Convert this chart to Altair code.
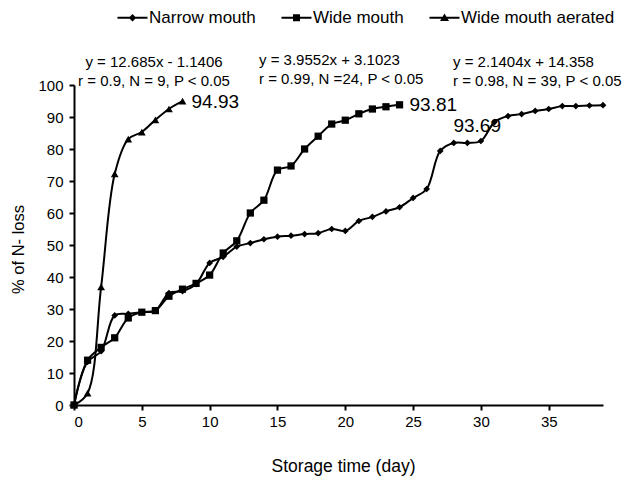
import altair as alt
import pandas as pd

FONT = "Liberation Sans"

series_names = ["Narrow mouth", "Wide mouth", "Wide mouth aerated"]

narrow_days = list(range(0, 40))
narrow_vals = [0, 13.5, 16.8, 28.0, 28.5, 29.0, 29.5, 35.0, 35.6, 37.8,
               44.4, 46.3, 49.5, 50.6, 51.8, 52.6, 52.9, 53.4, 53.7, 55.0,
               54.4, 57.5, 58.8, 60.5, 61.8, 64.7, 67.5, 79.4, 81.9, 81.9,
               82.5, 88.4, 90.3, 90.9, 91.9, 92.5, 93.4, 93.4, 93.6, 93.69]

wide_days = list(range(0, 25))
wide_vals = [0, 14.0, 18.0, 21.0, 27.2, 29.0, 29.5, 34.0, 36.2, 38.0,
             40.6, 47.5, 51.3, 60.0, 64.0, 73.4, 74.7, 80.0, 84.0, 87.8,
             89.0, 91.0, 92.5, 93.2, 93.81]

aer_days = list(range(0, 9))
aer_vals = [0, 3.7, 36.9, 72.2, 83.1, 85.3, 89.1, 92.5, 94.93]

x_ticks = [0, 5, 10, 15, 20, 25, 30, 35]
y_ticks = [0, 10, 20, 30, 40, 50, 60, 70, 80, 90, 100]

eq_line1 = ["y = 12.685x - 1.1406", "y = 3.9552x + 3.1023", "y = 2.1404x + 14.358"]
eq_line2 = ["r = 0.9, N = 9, P < 0.05", "r = 0.99, N =24, P < 0.05", "r = 0.98, N = 39, P < 0.05"]
end_labels = ["93.69", "93.81", "94.93"]

rows = []
for d, v in zip(narrow_days, narrow_vals):
    rows.append({"series": series_names[0], "day": d, "value": v})
for d, v in zip(wide_days, wide_vals):
    rows.append({"series": series_names[1], "day": d, "value": v})
for d, v in zip(aer_days, aer_vals):
    rows.append({"series": series_names[2], "day": d, "value": v})
df = pd.DataFrame(rows)

xscale = alt.Scale(domain=[0, 39], nice=False, zero=False)
yscale = alt.Scale(domain=[0, 100], nice=False)

x_axis = alt.Axis(
    values=x_ticks, title="Storage time (day)", titleX=269, titleY=61,
    titleBaseline="middle", titleFontSize=17.5, labelPadding=4, labelOverlap=False)
y_axis = alt.Axis(
    values=y_ticks, title="% of N- loss", titleX=-56, titleY=164,
    titleBaseline="middle", titleFontSize=16.5, labelPadding=6, labelOverlap=False)


def X():
    return alt.X("day:Q", scale=xscale, axis=x_axis)


def Y():
    return alt.Y("value:Q", scale=yscale, axis=y_axis)


base = alt.Chart(df)

lines = base.mark_line(color="black", strokeWidth=2, interpolate="catmull-rom").encode(
    x=X(), y=Y(), detail="series:N", order="day:Q")

points = base.mark_point(filled=True, color="black", opacity=1).encode(
    x=X(), y=Y(),
    shape=alt.Shape("series:N", scale=alt.Scale(domain=series_names,
                    range=["diamond", "square", "triangle-up"]), legend=None),
    size=alt.Size("series:N", scale=alt.Scale(domain=series_names, range=[45, 60, 75]),
                  legend=None),
)

# legend glyphs: a short line (thin filled bar) with the series marker on it
legend_paths = [
    "M-3,-0.2L3,-0.2L3,0.2L-3,0.2ZM0,-0.75L0.75,0L0,0.75L-0.75,0Z",
    "M-3,-0.2L3,-0.2L3,0.2L-3,0.2ZM-0.7,-0.7L0.7,-0.7L0.7,0.7L-0.7,0.7Z",
    "M-3,-0.2L3,-0.2L3,0.2L-3,0.2ZM0,-0.85L0.9,0.65L-0.9,0.65Z",
]

legend_layer = base.transform_filter("false").mark_point(
    filled=True, color="black", opacity=1
).encode(
    shape=alt.Shape("series:N", scale=alt.Scale(domain=series_names, range=legend_paths),
                    legend=alt.Legend(title=None, orient="none", direction="horizontal",
                                      legendX=50, legendY=-76, symbolSize=100,
                                      symbolFillColor="black", symbolStrokeColor="black",
                                      symbolStrokeWidth=0, symbolOpacity=1, labelOffset=8,
                                      columnPadding=25, padding=0,
                                      labelFont=FONT, labelFontSize=17,
                                      labelColor="black", labelLimit=0)),
)


def txt(t, x, y, align, size=15):
    return alt.Chart(pd.DataFrame({"t": [t]})).mark_text(
        font=FONT, fontSize=size, color="black", align=align, baseline="middle"
    ).encode(text="t:N", x=alt.value(x), y=alt.value(y))


eq1 = txt(eq_line1[0], 80, -23, "center")
eq1b = txt(eq_line2[0], 80, -4, "center")
eq2 = txt(eq_line1[1], 185, -25, "left")
eq2b = txt(eq_line2[1], 185, -6, "left")
eq3 = txt(eq_line1[2], 379, -23, "left")
eq3b = txt(eq_line2[2], 379, -4, "left")

end_df = pd.DataFrame({
    "day": [narrow_days[-1], wide_days[-1], aer_days[-1]],
    "value": [narrow_vals[-1], wide_vals[-1], aer_vals[-1]],
    "label": end_labels,
})


def end_label(i, align, dx, dy):
    return alt.Chart(end_df.iloc[[i]]).mark_text(
        font=FONT, fontSize=19, color="black", align=align, baseline="middle", dx=dx, dy=dy
    ).encode(x=X(), y=Y(), text="label:N")


lab_narrow = end_label(0, "right", -102, 21)
lab_wide = end_label(1, "left", 10, 0)
lab_aer = end_label(2, "left", 9, 1)

chart = alt.layer(
    lines, points, legend_layer, eq1, eq1b, eq2, eq2b, eq3, eq3b, lab_aer, lab_wide, lab_narrow
).resolve_scale(shape="independent", size="independent").properties(
    width=529, height=320,
    padding={"left": 74, "top": 85, "right": 19, "bottom": 77},
    autosize=alt.AutoSizeParams(type="none"),
).configure_view(stroke=None).configure_axis(
    grid=False, domainColor="black", domainWidth=2, tickColor="black", tickWidth=2,
    tickSize=5, labelFont=FONT, labelFontSize=15, labelColor="black",
    titleFont=FONT, titleColor="black", titleFontWeight="normal", labelOverlap=False,
)

chart.save("out.html", embed_options={"renderer": "svg", "actions": False})
